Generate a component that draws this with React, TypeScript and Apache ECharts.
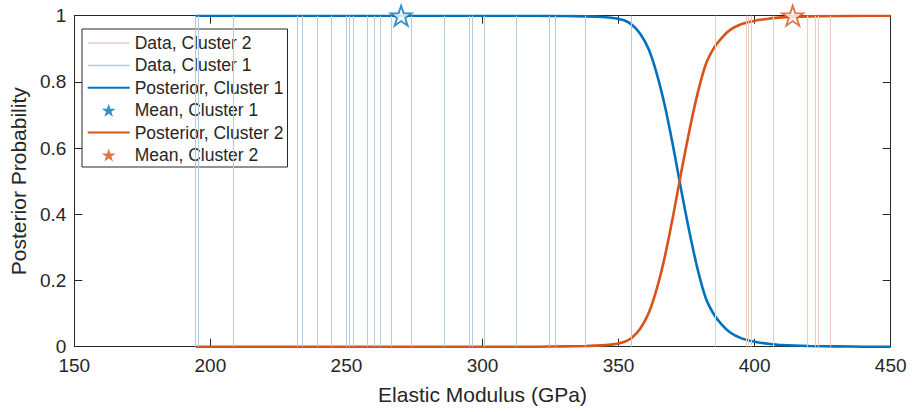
import React, { useEffect, useRef } from "react";
import * as echarts from "echarts";

// Observed elastic modulus values (GPa), split by assigned cluster
const cluster1Data = [
  194.4, 195.6, 208.4, 231.8, 233.8, 239.4, 244.5, 249.9, 251.0, 252.5, 257.7, 260.1,
  262.5, 266.6, 273.7, 286.1, 295.2, 296.2, 300.7, 312.3, 324.5, 326.9, 337.7, 354.7,
];
const cluster2Data = [385.4, 396.9, 397.7, 398.8, 406.7, 419.3, 422.3, 423.5, 427.8];

// Posterior probability curves sampled along the modulus axis
const gridX = [
  194.5, 230, 270, 300, 320, 330, 338, 344, 348, 352, 355, 358, 361, 364, 367, 370, 373,
  376, 379, 382, 385, 388, 391, 395, 400, 405, 410, 420, 430, 440, 450,
];
const posterior1 = [
  1, 1, 1, 1, 1, 0.999, 0.998, 0.996, 0.993, 0.986, 0.972, 0.945, 0.9, 0.826, 0.728, 0.607,
  0.474, 0.348, 0.236, 0.148, 0.098, 0.066, 0.043, 0.026, 0.015, 0.009, 0.005, 0.002, 0.001,
  0, 0,
];
const posterior2 = [
  0, 0, 0, 0, 0, 0.001, 0.002, 0.004, 0.007, 0.014, 0.028, 0.055, 0.1, 0.174, 0.272, 0.393,
  0.526, 0.652, 0.764, 0.852, 0.902, 0.934, 0.957, 0.974, 0.985, 0.991, 0.995, 0.998, 0.999,
  1, 1,
];

// Cluster means
const mean1 = [270.1, 1];
const mean2 = [414.0, 1];

const xTicks = { min: 150, max: 450, interval: 50 };
const yTicks = { min: 0, max: 1, interval: 0.2 };

const BLUE = "#0072BD";
const ORANGE = "#D95319";
const BLUE_LIGHT = "#b5cadc";
const ORANGE_LIGHT = "#ebcdc3";
const INK = "#262626";
const FONT = "Liberation Sans, Arial, Helvetica, sans-serif";

const STAR =
  "path://M50,0 L61.8,35.1 L98.9,35.1 L68.9,56.7 L80.3,91.9 L50,70.3 L19.7,91.9 L31.1,56.7 L1.1,35.1 L38.2,35.1 Z";

const zip = (xs: number[], ys: number[]) => xs.map((x, i) => [x, ys[i]]);

function dataLines(name: string, values: number[], color: string) {
  return {
    name,
    type: "line",
    data: [],
    color,
    symbol: "none",
    lineStyle: { color, width: 1 },
    silent: true,
    z: 1,
    markLine: {
      silent: true,
      symbol: ["none", "none"],
      label: { show: false },
      emphasis: { disabled: true },
      lineStyle: { color, width: 1, type: "solid" },
      data: values.map((v) => ({ xAxis: v })),
    },
  };
}

function axisBase(extra: any) {
  return {
    type: "value",
    axisLine: { show: true, onZero: false, lineStyle: { color: INK, width: 1 } },
    axisTick: { show: true, inside: true, length: 8, lineStyle: { color: INK, width: 1 } },
    splitLine: { show: false },
    ...extra,
  };
}

// legend entries for line series: a plain stroke, no marker
const lineEntry = (name: string, width?: number) => ({
  name,
  itemStyle: { opacity: 0 },
  ...(width ? { lineStyle: { width } } : {}),
});

export default function App() {
  const ref = useRef<HTMLDivElement>(null);

  useEffect(() => {
    if (!ref.current) return;
    const chart = echarts.init(ref.current, undefined, { renderer: "svg" });
    chart.setOption({
      animation: false,
      textStyle: { fontFamily: FONT },
      grid: { left: 70.7, right: 21.3, top: 15.7, bottom: 65.3, containLabel: false },
      xAxis: [
        axisBase({
          ...xTicks,
          position: "bottom",
          axisLabel: { fontSize: 19, color: INK, margin: 9, fontFamily: FONT },
          name: "Elastic Modulus (GPa)",
          nameLocation: "middle",
          nameGap: 37,
          nameTextStyle: { fontSize: 21, color: INK, fontFamily: FONT },
        }),
        axisBase({ ...xTicks, position: "top", axisLabel: { show: false } }),
      ],
      yAxis: [
        axisBase({
          ...yTicks,
          position: "left",
          axisLabel: { fontSize: 19, color: INK, margin: 8, fontFamily: FONT },
          name: "Posterior Probability",
          nameLocation: "middle",
          nameGap: 42,
          nameRotate: 90,
          nameTextStyle: { fontSize: 21, color: INK, fontFamily: FONT },
        }),
        axisBase({ ...yTicks, position: "right", axisLabel: { show: false } }),
      ],
      legend: {
        orient: "vertical",
        left: 82,
        top: 29,
        selectedMode: false,
        backgroundColor: "#ffffff",
        borderColor: INK,
        borderWidth: 1,
        borderRadius: 0,
        padding: [5, 4, 3, 4.7],
        itemWidth: 42,
        itemHeight: 13,
        itemGap: 4.4,
        textStyle: { fontSize: 17.5, color: INK, fontFamily: FONT, lineHeight: 18 },
        data: [
          lineEntry("Data, Cluster 2", 1.5),
          lineEntry("Data, Cluster 1", 1.5),
          lineEntry("Posterior, Cluster 1"),
          { name: "Mean, Cluster 1", icon: STAR, itemStyle: { color: BLUE, borderWidth: 0 } },
          lineEntry("Posterior, Cluster 2"),
          { name: "Mean, Cluster 2", icon: STAR, itemStyle: { color: ORANGE, borderWidth: 0 } },
        ],
      },
      series: [
        dataLines("Data, Cluster 2", cluster2Data, ORANGE_LIGHT),
        dataLines("Data, Cluster 1", cluster1Data, BLUE_LIGHT),
        {
          name: "Posterior, Cluster 1",
          type: "line",
          data: zip(gridX, posterior1),
          color: BLUE,
          symbol: "none",
          smooth: 0.25,
          lineStyle: { color: BLUE, width: 2.6 },
          z: 3,
        },
        {
          name: "Posterior, Cluster 2",
          type: "line",
          data: zip(gridX, posterior2),
          color: ORANGE,
          symbol: "none",
          smooth: 0.25,
          lineStyle: { color: ORANGE, width: 2.6 },
          z: 3,
        },
        {
          name: "Mean, Cluster 1",
          type: "scatter",
          data: [mean1],
          symbol: STAR,
          symbolSize: [21, 20],
          clip: false,
          itemStyle: { color: "#ffffff", borderColor: BLUE, borderWidth: 1.8 },
          z: 5,
        },
        {
          name: "Mean, Cluster 2",
          type: "scatter",
          data: [mean2],
          symbol: STAR,
          symbolSize: [21, 20],
          clip: false,
          itemStyle: { color: "#ffffff", borderColor: ORANGE, borderWidth: 1.8 },
          z: 5,
        },
      ],
    });
    return () => chart.dispose();
  }, []);

  return (
    <div
      ref={ref}
      style={{ position: "absolute", left: 0, top: 0, width: 912, height: 412, background: "#fff" }}
    />
  );
}
